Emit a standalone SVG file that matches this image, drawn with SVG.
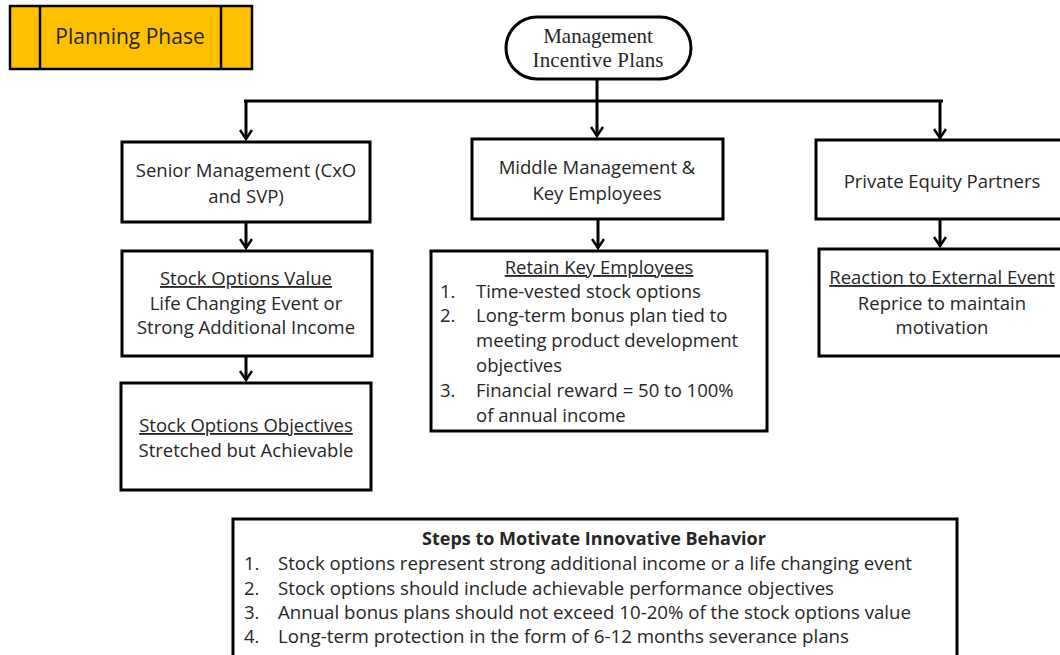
<svg xmlns="http://www.w3.org/2000/svg" width="1060" height="655" viewBox="0 0 1060 655">
  <style>
    .box { fill: #ffffff; stroke: #000000; stroke-width: 3; }
    .t { font-family: "Open Sans", "Liberation Sans", sans-serif; font-size: 18.5px; fill: #262626; }
    .c { text-anchor: middle; }
    .u { text-decoration: underline; }
    .serif { font-family: "Liberation Serif", serif; font-size: 21px; fill: #262626; text-anchor: middle; }
    .link { fill: none; stroke: #000000; stroke-width: 3; }
  </style>
  <defs>
    <!-- open chevron arrowhead, drawn along +x so orient="auto" points it down the line -->
    <marker id="arrow" viewBox="0 0 12 14" refX="10" refY="7" markerWidth="12" markerHeight="14" markerUnits="userSpaceOnUse" orient="auto">
      <path d="M1,1 L10,7 L1,13" fill="none" stroke="#000000" stroke-width="2.5"/>
    </marker>
  </defs>

  <g id="planning-phase">
    <rect x="10" y="6" width="242" height="63" fill="#FFC000" stroke="#000000" stroke-width="2.5"/>
    <line x1="40" y1="6" x2="40" y2="69" stroke="#000000" stroke-width="2.5"/>
    <line x1="221" y1="6" x2="221" y2="69" stroke="#000000" stroke-width="2.5"/>
    <text class="t c" x="130" y="44" style="font-size:21px">Planning Phase</text>
  </g>

  <g id="connectors">
    <line class="link" x1="597" y1="79" x2="597" y2="101"/>
    <line class="link" x1="244" y1="101" x2="943" y2="101"/>
    <line class="link" x1="246" y1="101" x2="246" y2="139" marker-end="url(#arrow)"/>
    <line class="link" x1="597" y1="101" x2="597" y2="136" marker-end="url(#arrow)"/>
    <line class="link" x1="940" y1="101" x2="940" y2="138" marker-end="url(#arrow)"/>
    <line class="link" x1="246" y1="222" x2="246" y2="248" marker-end="url(#arrow)"/>
    <line class="link" x1="246" y1="356" x2="246" y2="380" marker-end="url(#arrow)"/>
    <line class="link" x1="598" y1="219" x2="598" y2="248" marker-end="url(#arrow)"/>
    <line class="link" x1="940" y1="219" x2="940" y2="246" marker-end="url(#arrow)"/>
  </g>

  <g id="management-incentive-plans">
    <rect class="box" x="506" y="17" width="185" height="62" rx="31" ry="31" stroke-width="2.5"/>
    <text class="serif" x="598" y="43">Management</text>
    <text class="serif" x="598" y="67" textLength="131" lengthAdjust="spacing">Incentive  Plans</text>
  </g>

  <g id="senior-management">
    <rect class="box" x="122" y="142" width="248" height="80"/>
    <text class="t c" x="246" y="177">Senior Management (CxO</text>
    <text class="t c" x="246" y="203">and SVP)</text>
  </g>

  <g id="middle-management">
    <rect class="box" x="472" y="139" width="251" height="80"/>
    <text class="t c" x="597" y="174">Middle Management &amp;</text>
    <text class="t c" x="597" y="200">Key Employees</text>
  </g>

  <g id="private-equity">
    <rect class="box" x="816" y="140" width="250" height="79"/>
    <text class="t c" x="942" y="188">Private Equity Partners</text>
  </g>

  <g id="stock-options-value">
    <rect class="box" x="122" y="251" width="250" height="105"/>
    <text class="t c u" x="246" y="285">Stock Options Value</text>
    <text class="t c" x="246" y="310">Life Changing Event or</text>
    <text class="t c" x="246" y="334">Strong Additional Income</text>
  </g>

  <g id="stock-options-objectives">
    <rect class="box" x="121" y="383" width="250" height="107"/>
    <text class="t c u" x="246" y="432">Stock Options Objectives</text>
    <text class="t c" x="246" y="457">Stretched but Achievable</text>
  </g>

  <g id="retain-key-employees">
    <rect class="box" x="431" y="251" width="336" height="180"/>
    <text class="t c u" x="599" y="274">Retain Key Employees</text>
    <text class="t" x="440" y="298">1.</text>
    <text class="t" x="476" y="298">Time-vested stock options</text>
    <text class="t" x="440" y="322">2.</text>
    <text class="t" x="476" y="322">Long-term bonus plan tied to</text>
    <text class="t" x="476" y="347">meeting product development</text>
    <text class="t" x="476" y="372">objectives</text>
    <text class="t" x="440" y="397">3.</text>
    <text class="t" x="476" y="397">Financial reward = 50 to 100%</text>
    <text class="t" x="476" y="422">of annual income</text>
  </g>

  <g id="reaction-external-event">
    <rect class="box" x="819" y="249" width="250" height="107"/>
    <text class="t c u" x="942" y="284">Reaction to External Event</text>
    <text class="t c" x="942" y="310">Reprice to maintain</text>
    <text class="t c" x="942" y="334">motivation</text>
  </g>

  <g id="steps-to-motivate">
    <rect class="box" x="233" y="519" width="724" height="145"/>
    <text class="t c" x="594" y="545" style="font-weight:bold;font-size:18px">Steps to Motivate Innovative Behavior</text>
    <text class="t" x="244" y="570">1.</text>
    <text class="t" x="278" y="570" textLength="634" lengthAdjust="spacingAndGlyphs">Stock options represent strong additional income or a life changing event</text>
    <text class="t" x="244" y="595">2.</text>
    <text class="t" x="278" y="595" textLength="556" lengthAdjust="spacingAndGlyphs">Stock options should include achievable performance objectives</text>
    <text class="t" x="244" y="619">3.</text>
    <text class="t" x="278" y="619" textLength="633" lengthAdjust="spacingAndGlyphs">Annual bonus plans should not exceed 10-20% of the stock options value</text>
    <text class="t" x="244" y="643">4.</text>
    <text class="t" x="278" y="643" textLength="571" lengthAdjust="spacingAndGlyphs">Long-term protection in the form of 6-12 months severance plans</text>
  </g>
</svg>
